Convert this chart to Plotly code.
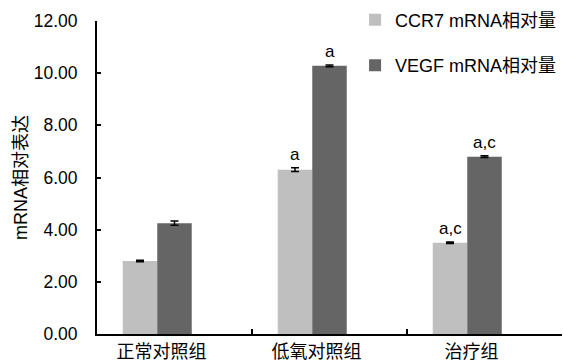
import plotly.graph_objects as go

categories = ["正常对照组", "低氧对照组", "治疗组"]
ccr7 = [2.80, 6.30, 3.50]
ccr7_err = [0.03, 0.07, 0.03]
vegf = [4.25, 10.28, 6.80]
vegf_err = [0.08, 0.03, 0.03]
ccr7_marks = ["", "a", "a,c"]
vegf_marks = ["", "a", "a,c"]
yticks = [0, 2, 4, 6, 8, 10, 12]

FONT = "Liberation Sans, Arial, Noto Sans CJK SC, sans-serif"
BW = 0.2226

fig = go.Figure()
fig.add_trace(go.Bar(
    x=categories, y=ccr7, name="CCR7 mRNA相对量",
    marker=dict(color="#bfbfbf", line=dict(width=0)),
    width=BW, offset=-1.5 * BW,
    error_y=dict(type="data", array=ccr7_err, visible=True, color="#000000", thickness=1.5, width=4),
    legendgroup="g1",
))
fig.add_trace(go.Bar(
    x=categories, y=vegf, name="VEGF mRNA相对量",
    marker=dict(color="#656565", line=dict(width=0)),
    width=BW, offset=-0.5 * BW,
    error_y=dict(type="data", array=vegf_err, visible=True, color="#000000", thickness=1.5, width=4),
    legendgroup="g2",
))

annotations = []
for i, c in enumerate(categories):
    if ccr7_marks[i]:
        annotations.append(dict(x=i - BW, y=ccr7[i] + ccr7_err[i], text=ccr7_marks[i],
                                xref="x", yref="y", showarrow=False, yanchor="bottom", yshift=2,
                                font=dict(family=FONT, size=17, color="#000")))
    if vegf_marks[i]:
        annotations.append(dict(x=i, y=vegf[i] + vegf_err[i], text=vegf_marks[i],
                                xref="x", yref="y", showarrow=False, yanchor="bottom", yshift=2,
                                font=dict(family=FONT, size=17, color="#000")))

fig.update_layout(
    width=564, height=364,
    margin=dict(l=97, r=2, t=21, b=30, autoexpand=False),
    paper_bgcolor="white", plot_bgcolor="white",
    barmode="overlay",
    showlegend=True,
    legend=dict(x=0.555, y=1.062, xanchor="left", yanchor="top",
                font=dict(family=FONT, size=18, color="#000"),
                tracegroupgap=19, bgcolor="rgba(0,0,0,0)"),
    annotations=annotations,
    font=dict(family=FONT, color="#000"),
)
fig.update_xaxes(
    type="category", showline=True, linecolor="#000", linewidth=2,
    ticks="inside", tickson="boundaries", ticklen=5, tickwidth=2, tickcolor="#000",
    showgrid=False, zeroline=False, ticklabelshift=-13,
    tickfont=dict(family="Noto Sans CJK SC, " + FONT, size=18, color="#000"),
)
fig.update_yaxes(
    range=[0, 12], tickvals=yticks, ticktext=[f"{v:.2f}" for v in yticks],
    showline=True, linecolor="#000", linewidth=2,
    ticks="inside", ticklen=4, tickwidth=2, tickcolor="#000",
    showgrid=False, zeroline=False, ticklabelstandoff=14,
    tickfont=dict(family=FONT, size=17.5, color="#000"),
    title=dict(text="mRNA相对表达", standoff=1, font=dict(family=FONT, size=18, color="#000")),
)

fig.write_html("out.html", config={"displayModeBar": False},
               post_script="document.body.style.margin='0px';")
